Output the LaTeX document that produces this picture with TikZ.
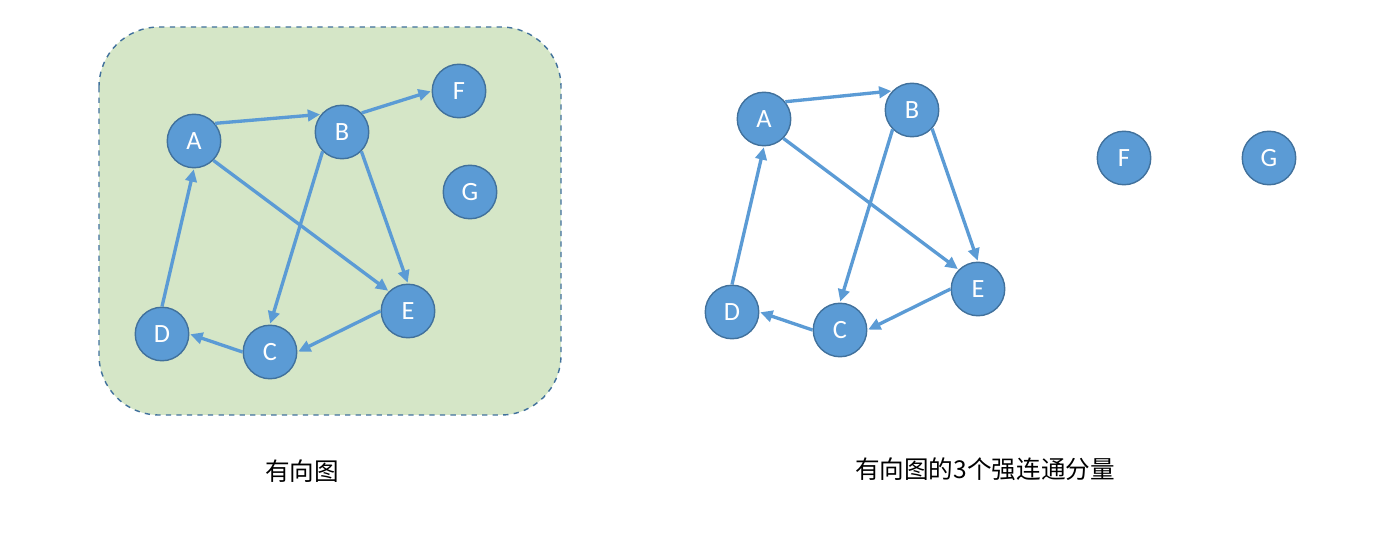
\documentclass[tikz,border=0pt]{standalone}
\usepackage{fontspec}
\usepackage{tikz}
\usetikzlibrary{arrows.meta}
\newfontfamily\cjk{Noto Sans CJK SC}
\newfontfamily\letterfont{Carlito}
\definecolor{NodeBlue}{HTML}{5B9BD5}
\definecolor{NodeEdge}{HTML}{41719C}
\definecolor{BoxGreen}{HTML}{D5E6C7}
\tikzset{
  vert/.style={circle,draw=NodeEdge,line width=0.8pt,fill=NodeBlue,minimum size=1.07cm,inner sep=0pt,text=white,font=\letterfont\fontsize{15}{15}\selectfont},
  arc/.style={draw=NodeBlue,line width=1.9pt,-{Triangle[length=7pt,width=6.5pt]},shorten >=0.5pt},
  caption/.style={anchor=center,font=\cjk\fontsize{14}{16}\selectfont}
}
\begin{document}
\begin{tikzpicture}
  \useasboundingbox (0,0) rectangle (27.56,-10.66);
  \draw[NodeEdge,dashed,line width=0.8pt,fill=BoxGreen,rounded corners=1.2cm] (1.98,-0.54) rectangle (11.22,-8.30);

  % left graph
  \node[vert,xshift=3.88cm,yshift=-2.82cm](lA){A};
  \node[vert,xshift=6.84cm,yshift=-2.64cm](lB){B};
  \node[vert,xshift=9.18cm,yshift=-1.82cm](lF){F};
  \node[vert,xshift=9.40cm,yshift=-3.84cm](lG){G};
  \node[vert,xshift=8.16cm,yshift=-6.22cm](lE){E};
  \node[vert,xshift=5.40cm,yshift=-7.04cm](lC){C};
  \node[vert,xshift=3.24cm,yshift=-6.68cm](lD){D};

  \draw[arc] (lA.40) -- (lB.140);
  \draw[arc] (lB.44) -- (lF.180);
  \draw[arc] (lA.-45) -- (lE.134);
  \draw[arc] (lB.225) -- (lC.90);
  \draw[arc] (lB.-45) -- (lE.90);
  \draw[arc] (lE.180) -- (lC.0);
  \draw[arc] (lC.180) -- (lD.0);
  \draw[arc] (lD.90) -- (lA.-90);

  % right graph
  \node[vert,xshift=15.28cm,yshift=-2.38cm](rA){A};
  \node[vert,xshift=18.24cm,yshift=-2.20cm](rB){B};
  \node[vert,xshift=22.48cm,yshift=-3.16cm](rF){F};
  \node[vert,xshift=25.38cm,yshift=-3.16cm](rG){G};
  \node[vert,xshift=19.56cm,yshift=-5.78cm](rE){E};
  \node[vert,xshift=16.80cm,yshift=-6.60cm](rC){C};
  \node[vert,xshift=14.64cm,yshift=-6.24cm](rD){D};

  \draw[arc] (rA.39) -- (rB.136);
  \draw[arc] (rA.-45) -- (rE.135);
  \draw[arc] (rB.225) -- (rC.90);
  \draw[arc] (rB.-43) -- (rE.90);
  \draw[arc] (rE.180) -- (rC.0);
  \draw[arc] (rC.180) -- (rD.0);
  \draw[arc] (rD.90) -- (rA.-90);

  \node[caption,xshift=6.04cm,yshift=-9.42cm](capL){有向图};
  \node[caption,xshift=19.70cm,yshift=-9.38cm](capR){有向图的3个强连通分量};
\end{tikzpicture}
\end{document}
